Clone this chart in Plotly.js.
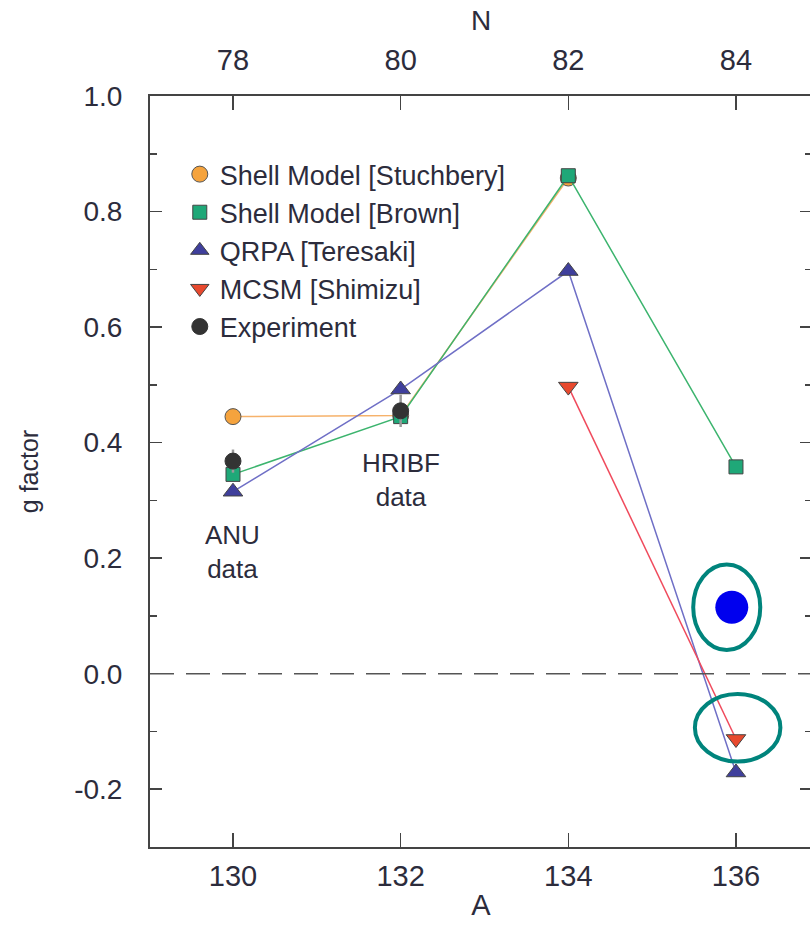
<!DOCTYPE html>
<html>
<head>
<meta charset="utf-8">
<script src="https://cdn.plot.ly/plotly-3.0.1.min.js"></script>
<style>
html,body{margin:0;padding:0;overflow:hidden;background:#fff;width:810px;height:927px;}
#chart{width:815px;height:927px;}
</style>
</head>
<body>
<div id="chart"></div>
<script>
// Data (A = mass number, N = neutron number = A - 52)
const A_stuchbery = [130, 132, 134];
const g_stuchbery = [0.445, 0.447, 0.858];

const A_brown = [130, 132, 134, 136];
const g_brown = [0.345, 0.445, 0.862, 0.358];

const A_qrpa = [130, 132, 134, 136];
const g_qrpa = [0.315, 0.492, 0.697, -0.171];

const A_mcsm = [134, 136];
const g_mcsm = [0.497, -0.113];

const A_exp = [130, 132];
const g_exp = [0.368, 0.455];
const g_exp_err = [0.02, 0.028];

const A_new = [135.95];
const g_new = [0.115];

const N_ticks = [78, 80, 82, 84];
const A_ticks = [130, 132, 134, 136];
const g_tickvals = [-0.2, 0.0, 0.2, 0.4, 0.6, 0.8, 1.0];
const g_ticktext = ["-0.2", "0.0", "0.2", "0.4", "0.6", "0.8", "1.0"];

const legendNames = ["Shell Model [Stuchbery]", "Shell Model [Brown]", "QRPA [Teresaki]", "MCSM [Shimizu]", "Experiment"];

const mainFont = "Liberation Sans, Arial, sans-serif";
const txtColor = "#2c2c3c";

const mk = {
  stuch: {symbol: "circle", size: 16, color: "#f5a33d", line: {color: "#555", width: 1}},
  brown: {symbol: "square", size: 14, color: "#1fa878", line: {color: "#444", width: 1}},
  qrpa: {symbol: "triangle-up", size: 17, color: "#3f3f9c", line: {color: "#444", width: 1}},
  mcsm: {symbol: "triangle-down", size: 17, color: "#e8492e", line: {color: "#444", width: 1}},
  exp: {symbol: "circle", size: 16, color: "#333333", line: {color: "#333", width: 1}}
};

const traces = [
  {x: A_stuchbery, y: g_stuchbery, mode: "lines+markers", showlegend: false,
   line: {color: "#f6b26b", width: 1.5}, marker: mk.stuch},
  {x: A_brown, y: g_brown, mode: "lines+markers", showlegend: false,
   line: {color: "#3cb46e", width: 1.5}, marker: mk.brown},
  {x: A_qrpa, y: g_qrpa, mode: "lines+markers", showlegend: false,
   line: {color: "#6f6fc6", width: 1.5}, marker: mk.qrpa},
  {x: A_mcsm, y: g_mcsm, mode: "lines+markers", showlegend: false,
   line: {color: "#f04a5c", width: 1.5}, marker: mk.mcsm},
  {x: A_exp, y: g_exp, mode: "markers", showlegend: false,
   error_y: {type: "data", array: g_exp_err, visible: true, color: "#999", thickness: 2.5, width: 0},
   marker: mk.exp},
  {x: A_new, y: g_new, mode: "markers", showlegend: false,
   marker: {symbol: "circle", size: 33, color: "#0000ee", line: {width: 0}}},
  {x: N_ticks, y: N_ticks.map(() => null), xaxis: "x2", yaxis: "y", showlegend: false, mode: "markers", hoverinfo: "skip"}
];
// legend-only entries (markers only, as in the reference legend)
[mk.stuch, mk.brown, mk.qrpa, mk.mcsm, mk.exp].forEach((m, i) => {
  traces.push({x: [null], y: [null], mode: "markers", name: legendNames[i], legendgroup: "g" + i, marker: m});
});

const layout = {
  width: 815, height: 927,
  margin: {l: 150, r: 3, t: 96, b: 80},
  paper_bgcolor: "#fff", plot_bgcolor: "#fff",
  showlegend: true,
  legend: {x: 0.045, y: 0.928, xanchor: "left", yanchor: "top", bgcolor: "rgba(0,0,0,0)",
    font: {family: mainFont, size: 27, color: txtColor}, tracegroupgap: 0, itemwidth: 30},
  xaxis: {range: [129.01, 136.907], tickvals: A_ticks, ticks: "inside", ticklen: 14, tickwidth: 1.5, tickcolor: "#444",
    showline: true, linecolor: "#444", linewidth: 2, showgrid: false, zeroline: false,
    tickfont: {family: mainFont, size: 29, color: txtColor}, ticklabelstandoff: 2,
    title: {text: "A", font: {family: mainFont, size: 29, color: txtColor}, standoff: 4}},
  xaxis2: {overlaying: "x", side: "top", range: [77.01, 84.907], tickvals: N_ticks, ticks: "inside", ticklen: 14, tickwidth: 1.5, tickcolor: "#444",
    showline: true, linecolor: "#444", linewidth: 2, showgrid: false, zeroline: false,
    tickfont: {family: mainFont, size: 29, color: txtColor}, ticklabelstandoff: 12,
    title: {text: "N", font: {family: mainFont, size: 28, color: txtColor}, standoff: 6}},
  yaxis: {range: [-0.3, 1.0], tickvals: g_tickvals, ticktext: g_ticktext, ticks: "inside", ticklen: 12, tickwidth: 1.5, tickcolor: "#444",
    minor: {dtick: 0.1, ticks: "inside", ticklen: 7, tickwidth: 1.5, tickcolor: "#444"},
    showline: true, mirror: "ticks", linecolor: "#444", linewidth: 2, showgrid: false, zeroline: false,
    tickfont: {family: mainFont, size: 28, color: txtColor}, ticklabelstandoff: 20,
    title: {text: "g factor", font: {family: mainFont, size: 25, color: txtColor}, standoff: 28}},
  shapes: [
    {type: "line", xref: "paper", yref: "y", x0: 0, x1: 1, y0: 0, y1: 0,
     line: {color: "#555", width: 1.5, dash: "24px,12px"}},
    {type: "circle", xref: "x", yref: "y", x0: 135.49, x1: 136.29, y0: 0.041, y1: 0.189,
     line: {color: "#00847c", width: 4}},
    {type: "circle", xref: "x", yref: "y", x0: 135.51, x1: 136.53, y0: -0.152, y1: -0.035,
     line: {color: "#00847c", width: 4}}
  ],
  annotations: [
    {x: 130, y: 0.21, xref: "x", yref: "y", text: "ANU<br>data", showarrow: false,
     font: {family: mainFont, size: 26, color: txtColor}, align: "center"},
    {x: 132, y: 0.335, xref: "x", yref: "y", text: "HRIBF<br>data", showarrow: false,
     font: {family: mainFont, size: 26, color: txtColor}, align: "center"}
  ]
};

Plotly.newPlot("chart", traces, layout, {displayModeBar: false, staticPlot: true});
</script>
</body>
</html>
